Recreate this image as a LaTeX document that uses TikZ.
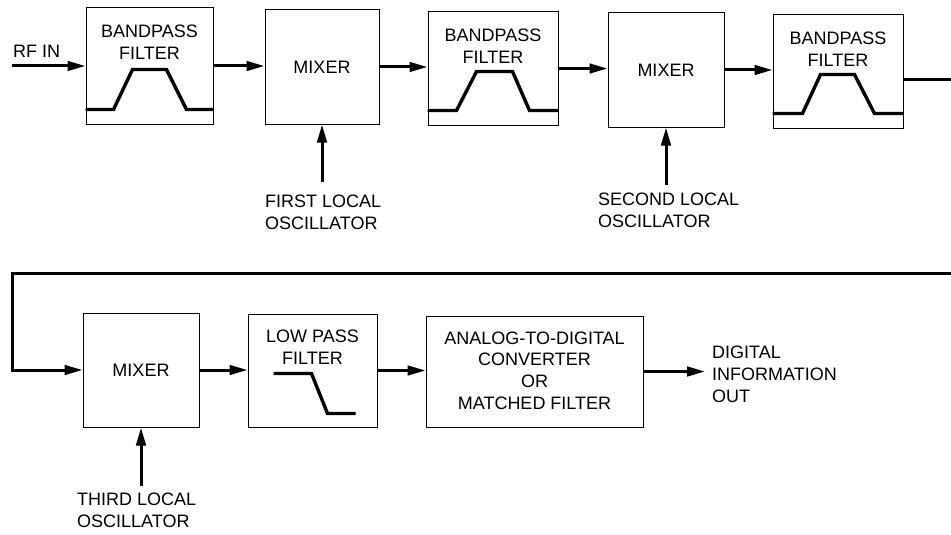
\documentclass[tikz,border=0pt]{standalone}
\usepackage{fontspec}
\setmainfont{Liberation Sans}
\usetikzlibrary{arrows.meta,calc}
\begin{document}
\begin{tikzpicture}[x=1pt,y=-1pt,
  box/.style={draw, line width=1pt, inner sep=0pt},
  conn/.style={line width=3pt, -{Triangle[length=18pt,width=9.5pt]}},
  wire/.style={line width=3pt},
  filt/.style={line width=3.4pt, line join=miter},
  lbl/.style={font=\fontsize{18}{22}\selectfont, align=left, inner sep=0pt, anchor=north west},
  ctr/.style={font=\fontsize{18}{22}\selectfont, align=center, inner sep=0pt}]
\useasboundingbox (0,0) rectangle (951,535);

% top row boxes
\node[box, minimum width=127pt, minimum height=116pt] (bpf1) at (149.5,66) {};
\node[box, minimum width=114pt, minimum height=114pt] (mix1) at (322,67) {};
\node[box, minimum width=130pt, minimum height=113pt] (bpf2) at (493,68.5) {};
\node[box, minimum width=116pt, minimum height=114pt] (mix2) at (666,70) {};
\node[box, minimum width=130pt, minimum height=113pt] (bpf3) at (838,71.5) {};
% bottom row boxes
\node[box, minimum width=116pt, minimum height=114pt] (mix3) at (141,370) {};
\node[box, minimum width=129pt, minimum height=113pt] (lpf) at (312.5,370.5) {};
\node[box, minimum width=217pt, minimum height=111pt] (adc) at (534.5,371.5) {};

% box texts
\node[ctr, anchor=north] (bpf1t) at ($(bpf1.north)+(0,17)$) {BANDPASS\\FILTER};
\node[ctr, anchor=north] (bpf2t) at ($(bpf2.north)+(0,17)$) {BANDPASS\\FILTER};
\node[ctr, anchor=north] (bpf3t) at ($(bpf3.north)+(0,17)$) {BANDPASS\\FILTER};
\node[ctr] (mix1t) at (mix1.center) {MIXER};
\node[ctr] (mix2t) at (mix2.center) {MIXER};
\node[ctr] (mix3t) at (mix3.center) {MIXER};
\node[ctr, anchor=north] (lpft) at ($(lpf.north)+(0,16)$) {LOW PASS\\FILTER};
\node[ctr, font=\fontsize{18}{21.7}\selectfont] (adct) at ($(adc.center)+(0,-1)$) {ANALOG-TO-DIGITAL\\CONVERTER\\OR\\MATCHED FILTER};

% filter curves
\draw[filt] ([shift={(0,-15)}]bpf1.south west) -- ++(28,0) -- ++(19,-40) -- ++(34,0) -- ++(20,40) -- ([shift={(0,-15)}]bpf1.south east);
\draw[filt] ([shift={(0,-15)}]bpf2.south west) -- ++(29,0) -- ++(20,-39) -- ++(36,0) -- ++(17,39) -- ([shift={(0,-15)}]bpf2.south east);
\draw[filt] ([shift={(0,-15)}]bpf3.south west) -- ++(30,0) -- ++(18,-39) -- ++(34,0) -- ++(20,39) -- ([shift={(0,-15)}]bpf3.south east);
\draw[filt] ([shift={(26,-54)}]lpf.south west) -- ++(38,0) -- ++(16,40) -- ++(28,0);

% labels
\node[lbl] (rfin) at (13,45) {RF IN};
\node[lbl] (osc1) at (265,195) {FIRST LOCAL\\OSCILLATOR};
\node[lbl] (osc2) at (598,193) {SECOND LOCAL\\OSCILLATOR};
\node[lbl] (osc3) at (77,493) {THIRD LOCAL\\OSCILLATOR};
\node[lbl] (dout) at (712,346) {DIGITAL\\INFORMATION\\OUT};

% coordinates for free ends
\coordinate (rfL) at (12,67);
\coordinate (outR) at (951,80);
\coordinate (retR) at (951,273);
\coordinate (retL) at (12,273);

% top row connectors
\draw[conn] (rfL |- bpf1.west) -- (bpf1.west);
\draw[conn] (bpf1.east) -- (bpf1.east -| mix1.west);
\draw[conn] (mix1.east) -- (mix1.east -| bpf2.west);
\draw[conn] (bpf2.east) -- (bpf2.east -| mix2.west);
\draw[conn] (mix2.east) -- (mix2.east -| bpf3.west);
\draw[wire] (outR -| bpf3.east) -- (outR);

% oscillators
\draw[conn] ($(osc1.north -| mix1.south)+(0,-13)$) -- (mix1.south);
\draw[conn] ($(osc2.north -| mix2.south)+(0,-8)$) -- (mix2.south);
\draw[conn] ($(osc3.north -| mix3.south)+(0,-7)$) -- (mix3.south);

% return path and bottom row
\draw[wire, -{Triangle[length=18pt,width=9.5pt]}] (retR) -- (retL) -- (retL |- mix3.west) -- (mix3.west);
\draw[conn] (mix3.east) -- (mix3.east -| lpf.west);
\draw[conn] (lpf.east) -- (lpf.east -| adc.west);
\draw[conn] (adc.east) -- ($(adc.east -| dout.west)+(-7,0)$);
\end{tikzpicture}
\end{document}
